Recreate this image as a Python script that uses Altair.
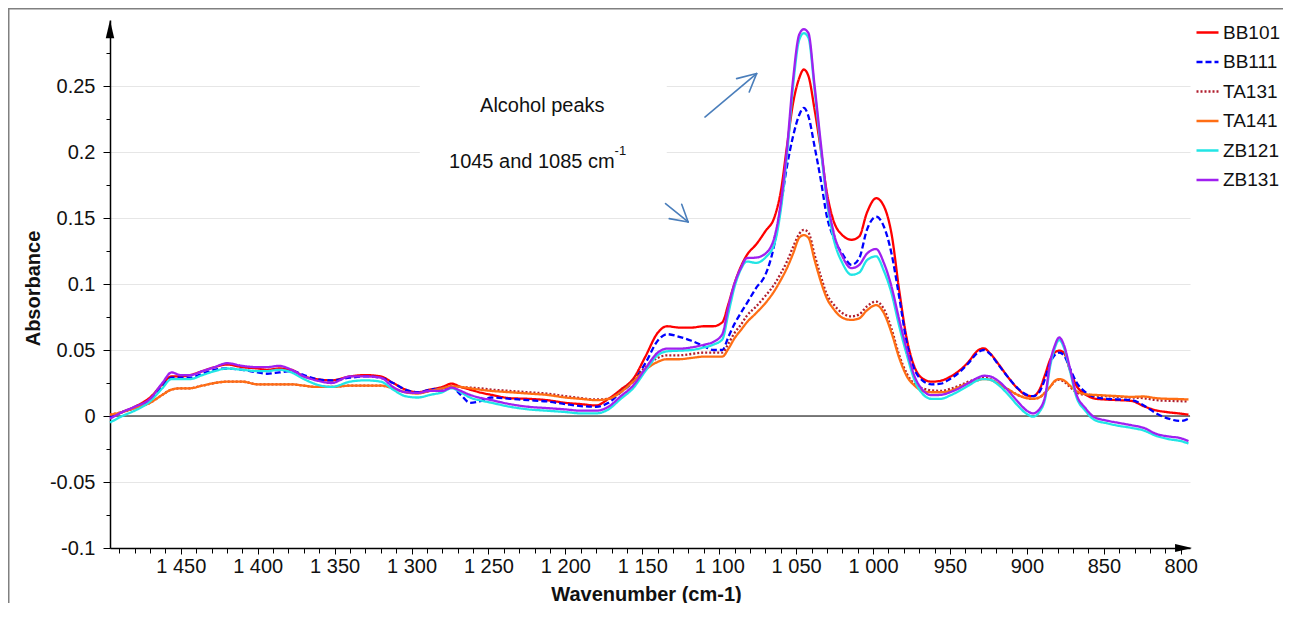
import altair as alt
import pandas as pd

# ---------------- data ----------------
wavenumber = [1496, 1488, 1480, 1470, 1462, 1456, 1450, 1444, 1436, 1428, 1420, 1410, 1400, 1394, 1386, 1378, 1370, 1362, 1352, 1340, 1330, 1320, 1312, 1304, 1296, 1288,
              1280, 1274, 1268, 1262, 1256, 1248, 1236, 1224, 1212, 1200, 1190, 1180, 1172, 1164, 1156, 1148, 1140, 1134, 1126, 1118, 1110, 1104, 1098,
              1094, 1090, 1086, 1082, 1076, 1070, 1064, 1060, 1056, 1052, 1048, 1045, 1042, 1038, 1034, 1030, 1026, 1020, 1014, 1009, 1004, 998,
              993, 988, 983, 978, 973, 968, 962, 956, 950, 944, 938, 932, 928, 924, 918, 912, 906, 900, 896, 892, 888, 885, 882, 879, 876, 872, 868, 862, 856, 848, 840, 832, 824, 816, 808, 800, 795]

bb101 = [-0.001, 0.003, 0.007, 0.014, 0.024, 0.030, 0.030, 0.031, 0.034, 0.037, 0.039, 0.037, 0.036, 0.035, 0.036, 0.035, 0.030, 0.028, 0.027, 0.030, 0.031, 0.030, 0.025, 0.020, 0.018, 0.020,
         0.022, 0.0245, 0.022, 0.020, 0.018, 0.016, 0.0135, 0.013, 0.012, 0.010, 0.009, 0.008, 0.013, 0.020, 0.028, 0.045, 0.063, 0.068, 0.067, 0.067, 0.068, 0.068, 0.071,
         0.085, 0.1006, 0.113, 0.122, 0.130, 0.140, 0.151, 0.170, 0.204, 0.237, 0.256, 0.2625, 0.2575, 0.232, 0.202, 0.169, 0.149, 0.137, 0.1335, 0.136, 0.154, 0.165,
         0.159, 0.138, 0.095, 0.058, 0.037, 0.0285, 0.026, 0.0267, 0.0297, 0.0343, 0.041, 0.0495, 0.0513, 0.0475, 0.0386, 0.029, 0.0208, 0.0155, 0.015, 0.0196, 0.032, 0.0424, 0.048, 0.0495, 0.048, 0.0348, 0.0234, 0.0165, 0.0132, 0.0124, 0.012, 0.0114, 0.0074, 0.0043, 0.0028, 0.0018, 0.001]

bb111 = [-0.001, 0.003, 0.006, 0.012, 0.022, 0.029, 0.029, 0.029, 0.032, 0.035, 0.036, 0.035, 0.033, 0.032, 0.033, 0.034, 0.031, 0.028, 0.027, 0.029, 0.030, 0.029, 0.025, 0.020, 0.018, 0.020,
         0.021, 0.022, 0.016, 0.010, 0.011, 0.014, 0.013, 0.012, 0.011, 0.009, 0.0075, 0.007, 0.010, 0.018, 0.026, 0.040, 0.057, 0.062, 0.060, 0.057, 0.053, 0.050, 0.050,
         0.060, 0.070, 0.078, 0.0855, 0.097, 0.107, 0.131, 0.159, 0.189, 0.212, 0.228, 0.2335, 0.227, 0.204, 0.179, 0.151, 0.136, 0.123, 0.1145, 0.1196, 0.141, 0.151,
         0.1436, 0.123, 0.090, 0.055, 0.035, 0.027, 0.024, 0.0245, 0.028, 0.033, 0.040, 0.048, 0.050, 0.047, 0.038, 0.029, 0.021, 0.016, 0.015, 0.018, 0.029, 0.040, 0.046, 0.048, 0.046, 0.036, 0.026, 0.018, 0.0145, 0.013, 0.0125, 0.012, 0.008, 0.002, -0.002, -0.0038, -0.002]

ta131 = [0.001, 0.003, 0.006, 0.010, 0.016, 0.020, 0.021, 0.021, 0.023, 0.025, 0.026, 0.026, 0.024, 0.024, 0.024, 0.024, 0.023, 0.022, 0.022, 0.023, 0.023, 0.023, 0.021, 0.018, 0.0175, 0.019,
         0.021, 0.0225, 0.022, 0.0215, 0.021, 0.020, 0.019, 0.018, 0.017, 0.015, 0.0135, 0.0125, 0.013, 0.019, 0.027, 0.037, 0.044, 0.046, 0.046, 0.047, 0.048, 0.048, 0.048,
         0.055, 0.063, 0.069, 0.076, 0.083, 0.091, 0.100, 0.108, 0.117, 0.128, 0.138, 0.141, 0.139, 0.122, 0.106, 0.092, 0.085, 0.078, 0.0755, 0.077, 0.083, 0.0867,
         0.081, 0.066, 0.046, 0.032, 0.024, 0.021, 0.0195, 0.019, 0.0205, 0.023, 0.026, 0.028, 0.029, 0.028, 0.024, 0.020, 0.016, 0.0135, 0.013, 0.014, 0.018, 0.022, 0.026, 0.0275, 0.026, 0.022, 0.018, 0.016, 0.0155, 0.015, 0.0145, 0.014, 0.0135, 0.012, 0.0115, 0.0112, 0.011]

ta141 = [0.001, 0.003, 0.006, 0.010, 0.016, 0.020, 0.021, 0.021, 0.023, 0.025, 0.026, 0.026, 0.024, 0.024, 0.024, 0.024, 0.023, 0.022, 0.022, 0.023, 0.023, 0.023, 0.021, 0.018, 0.017, 0.019,
         0.021, 0.0225, 0.022, 0.021, 0.020, 0.019, 0.018, 0.017, 0.016, 0.014, 0.013, 0.012, 0.013, 0.018, 0.026, 0.035, 0.041, 0.043, 0.043, 0.044, 0.045, 0.045, 0.045,
         0.051, 0.059, 0.065, 0.071, 0.078, 0.0855, 0.095, 0.103, 0.112, 0.123, 0.135, 0.137, 0.135, 0.118, 0.102, 0.089, 0.0816, 0.0745, 0.0728, 0.074, 0.080, 0.084,
         0.078, 0.063, 0.044, 0.030, 0.023, 0.019, 0.018, 0.018, 0.019, 0.022, 0.025, 0.027, 0.028, 0.0275, 0.024, 0.020, 0.016, 0.0135, 0.013, 0.014, 0.018, 0.022, 0.0265, 0.028, 0.027, 0.023, 0.019, 0.0165, 0.016, 0.0155, 0.015, 0.0145, 0.0148, 0.0135, 0.013, 0.0128, 0.0125]

zb121 = [-0.005, 0.000, 0.004, 0.011, 0.021, 0.028, 0.028, 0.028, 0.031, 0.034, 0.036, 0.035, 0.034, 0.034, 0.035, 0.033, 0.028, 0.024, 0.022, 0.026, 0.027, 0.026, 0.020, 0.015, 0.014, 0.016,
         0.018, 0.021, 0.018, 0.014, 0.012, 0.010, 0.007, 0.005, 0.004, 0.003, 0.002, 0.002, 0.005, 0.013, 0.021, 0.034, 0.046, 0.049, 0.0495, 0.050, 0.052, 0.054, 0.058,
         0.078, 0.098, 0.111, 0.117, 0.116, 0.120, 0.131, 0.156, 0.197, 0.250, 0.285, 0.290, 0.2865, 0.247, 0.203, 0.1625, 0.136, 0.116, 0.107, 0.1087, 0.118, 0.121,
         0.110, 0.093, 0.068, 0.046, 0.027, 0.017, 0.013, 0.013, 0.0155, 0.019, 0.023, 0.027, 0.028, 0.0275, 0.023, 0.016, 0.008, 0.0015, -0.0005, 0.003, 0.014, 0.037, 0.051, 0.0576, 0.052, 0.034, 0.015, 0.004, -0.003, -0.0055, -0.0075, -0.009, -0.011, -0.015, -0.0175, -0.019, -0.0208]

zb131 = [-0.002, 0.003, 0.007, 0.013, 0.025, 0.033, 0.031, 0.031, 0.034, 0.037, 0.040, 0.038, 0.037, 0.037, 0.038, 0.035, 0.030, 0.027, 0.025, 0.030, 0.030, 0.029, 0.022, 0.018, 0.0175, 0.019,
         0.019, 0.0215, 0.019, 0.016, 0.014, 0.012, 0.009, 0.007, 0.006, 0.005, 0.004, 0.004, 0.007, 0.015, 0.023, 0.036, 0.048, 0.051, 0.051, 0.052, 0.054, 0.056, 0.062,
         0.083, 0.1006, 0.112, 0.1196, 0.120, 0.123, 0.136, 0.161, 0.202, 0.255, 0.289, 0.293, 0.290, 0.250, 0.207, 0.166, 0.141, 0.121, 0.112, 0.1145, 0.123, 0.1265,
         0.116, 0.098, 0.073, 0.050, 0.030, 0.020, 0.0158, 0.016, 0.018, 0.021, 0.025, 0.029, 0.0305, 0.030, 0.026, 0.019, 0.011, 0.004, 0.002, 0.005, 0.016, 0.040, 0.053, 0.0595, 0.054, 0.036, 0.017, 0.006, -0.001, -0.0035, -0.0053, -0.007, -0.009, -0.0135, -0.0155, -0.0168, -0.019]

series_names = ["BB101", "BB111", "TA131", "TA141", "ZB121", "ZB131"]
series_values = [bb101, bb111, ta131, ta141, zb121, zb131]
series_colors = ["#ff0000", "#0000ff", "#b01e2e", "#ff6e14", "#22e5e5", "#a020f0"]
series_dashes = [[1, 0], [6, 3], [2, 2], [1, 0], [1, 0], [1, 0]]

x_ticks = list(range(800, 1500, 10))
y_ticks = [-0.1, -0.075, -0.05, -0.025, 0, 0.025, 0.05, 0.075, 0.1, 0.125, 0.15, 0.175, 0.2, 0.225, 0.25, 0.275]

# annotation (data units)
note_text = ["Alcohol peaks", "1045 and 1085 cm"]
note_x = [1215, 1221.8]
note_y = [0.2346, 0.1924]
sup_text = ["-1"]
sup_x = [1168]
sup_y = [0.2005]
box_x1, box_x2, box_y1, box_y2 = [1294.6], [1134.1], [0.165], [0.275]
arrow_x1 = [1109.3, 1075.7, 1075.7, 1134.9, 1120.2, 1120.2]
arrow_y1 = [0.2265, 0.2594, 0.2594, 0.1609, 0.1470, 0.1470]
arrow_x2 = [1075.7, 1088.7, 1080.5, 1120.2, 1132.5, 1124.4]
arrow_y2 = [0.2594, 0.2556, 0.2455, 0.1470, 0.1495, 0.1604]

# ---------------- build tables ----------------
rows = []
for name, vals in zip(series_names, series_values):
    assert len(vals) == len(wavenumber), name
    for w, v in zip(wavenumber, vals):
        rows.append({"wn": w, "absorbance": v, "sample": name})
df = pd.DataFrame(rows)

FONT = "Liberation Sans"
x_scale = alt.Scale(domain=[794, 1496], reverse=True, nice=False, zero=False)
y_scale = alt.Scale(domain=[-0.1, 0.3], nice=False, zero=False)

major_y = "abs(datum.value*20 - round(datum.value*20)) < 0.001"
major_x = "datum.value % 50 == 0"

x_axis = alt.Axis(
    values=x_ticks, tickCount=200, grid=False, labelOverlap=False, labelFlush=False,
    labelExpr=("datum.value % 50 == 0 ? (datum.value >= 1000 ? floor(datum.value/1000) + ' ' + "
               "format(datum.value % 1000, '03d') : '' + datum.value) : ''"),
    tickSize={"condition": {"test": major_x, "value": 6}, "value": 5},
    tickColor="black", tickWidth=1, domainColor="black", domainWidth=1.5,
    labelFontSize=20, labelFont=FONT, labelColor="#111111", labelPadding=2,
    title="Wavenumber (cm-1)", titleFont=FONT, titleFontSize=20, titleFontWeight="bold",
    titleColor="#111111", titleX=536, titleY=46, titleAlign="center", titleBaseline="middle",
)
y_axis = alt.Axis(
    values=y_ticks, tickCount=100, labelOverlap=False, labelFlush=False,
    labelExpr=major_y + " ? '' + datum.value : ''",
    tickSize={"condition": {"test": major_y, "value": 7}, "value": 4},
    grid=True, gridColor="#e6e6e6", gridWidth=1.2,
    gridOpacity={"condition": {"test": major_y, "value": 1}, "value": 0},
    tickColor="black", tickWidth=1, domainColor="black", domainWidth=1.5,
    labelFontSize=20, labelFont=FONT, labelColor="#111111", labelPadding=8,
    title="Absorbance", titleFont=FONT, titleFontSize=20, titleFontWeight="bold",
    titleColor="#111111", titleAngle=270, titleX=-77, titleY=268, titleAlign="center",
    titleBaseline="middle",
)

legend = alt.Legend(
    orient="none", legendX=1085, legendY=0, title=None,
    symbolType="stroke", symbolSize=484, symbolStrokeWidth=2.5,
    labelFontSize=19, labelFont=FONT, labelColor="#111111", labelOffset=3,
    rowPadding=6.5, padding=0,
)

lines = alt.Chart(df).mark_line(strokeWidth=2.3, interpolate="monotone").encode(
    x=alt.X("wn:Q", scale=x_scale, axis=x_axis),
    y=alt.Y("absorbance:Q", scale=y_scale, axis=y_axis),
    color=alt.Color("sample:N", scale=alt.Scale(domain=series_names, range=series_colors), legend=legend),
    strokeDash=alt.StrokeDash("sample:N", scale=alt.Scale(domain=series_names, range=series_dashes), legend=legend),
    order=alt.Order("wn:Q", sort="descending"),
)

zero_line = alt.Chart(pd.DataFrame({"y": [0]})).mark_rule(color="black", strokeWidth=1.2).encode(
    y=alt.Y("y:Q", scale=y_scale)
)

box = alt.Chart(pd.DataFrame({"x1": box_x1, "x2": box_x2, "y1": box_y1, "y2": box_y2})).mark_rect(
    color="white"
).encode(x=alt.X("x1:Q", scale=x_scale), x2="x2:Q", y=alt.Y("y1:Q", scale=y_scale), y2="y2:Q")

notes = alt.Chart(pd.DataFrame({"x": note_x, "y": note_y, "t": note_text})).mark_text(
    font=FONT, fontSize=20, color="#111111", align="center", baseline="middle"
).encode(x=alt.X("x:Q", scale=x_scale), y=alt.Y("y:Q", scale=y_scale), text="t:N")

sup = alt.Chart(pd.DataFrame({"x": sup_x, "y": sup_y, "t": sup_text})).mark_text(
    font=FONT, fontSize=13, color="#111111", align="left", baseline="middle"
).encode(x=alt.X("x:Q", scale=x_scale), y=alt.Y("y:Q", scale=y_scale), text="t:N")

arrows = alt.Chart(pd.DataFrame({"x1": arrow_x1, "y1": arrow_y1, "x2": arrow_x2, "y2": arrow_y2})).mark_rule(
    color="#4a7ebb", strokeWidth=1.6, strokeCap="round"
).encode(x=alt.X("x1:Q", scale=x_scale), y=alt.Y("y1:Q", scale=y_scale), x2="x2:Q", y2="y2:Q")

# axis arrow heads at the axis ends
y_head = alt.Chart(pd.DataFrame({"x": [1496], "y": [0.293]})).mark_point(
    shape="M0,-1L0.47,1L-0.47,1Z", size=324, filled=True, color="black", opacity=1
).encode(x=alt.X("x:Q", scale=x_scale), y=alt.Y("y:Q", scale=y_scale))
x_head = alt.Chart(pd.DataFrame({"x": [798.2], "y": [-0.1]})).mark_point(
    shape="M1,0L-1,-0.47L-1,0.47Z", size=289, filled=True, color="black", opacity=1
).encode(x=alt.X("x:Q", scale=x_scale), y=alt.Y("y:Q", scale=y_scale))

# outer frame (decoration): an unfilled rectangle whose right/bottom edges lie off the page
frame = alt.Chart(pd.DataFrame({"k": [0]})).mark_rect(
    fill="transparent", stroke="#808080", strokeWidth=1.5
).encode(x=alt.value(-101.25), x2=alt.value(1400), y=alt.value(-11.25), y2=alt.value(800))

chart = alt.layer(
    box, zero_line, lines, arrows, notes, sup, y_head, x_head, frame
).properties(
    width=1080, height=528,
    autosize=alt.AutoSizeParams(type="none"),
    padding={"left": 102, "top": 12, "right": 93, "bottom": 55},
).configure(background="white", font=FONT).configure_view(stroke="transparent", strokeWidth=0)

chart.save("out.html", embed_options={"renderer": "svg", "actions": False})
